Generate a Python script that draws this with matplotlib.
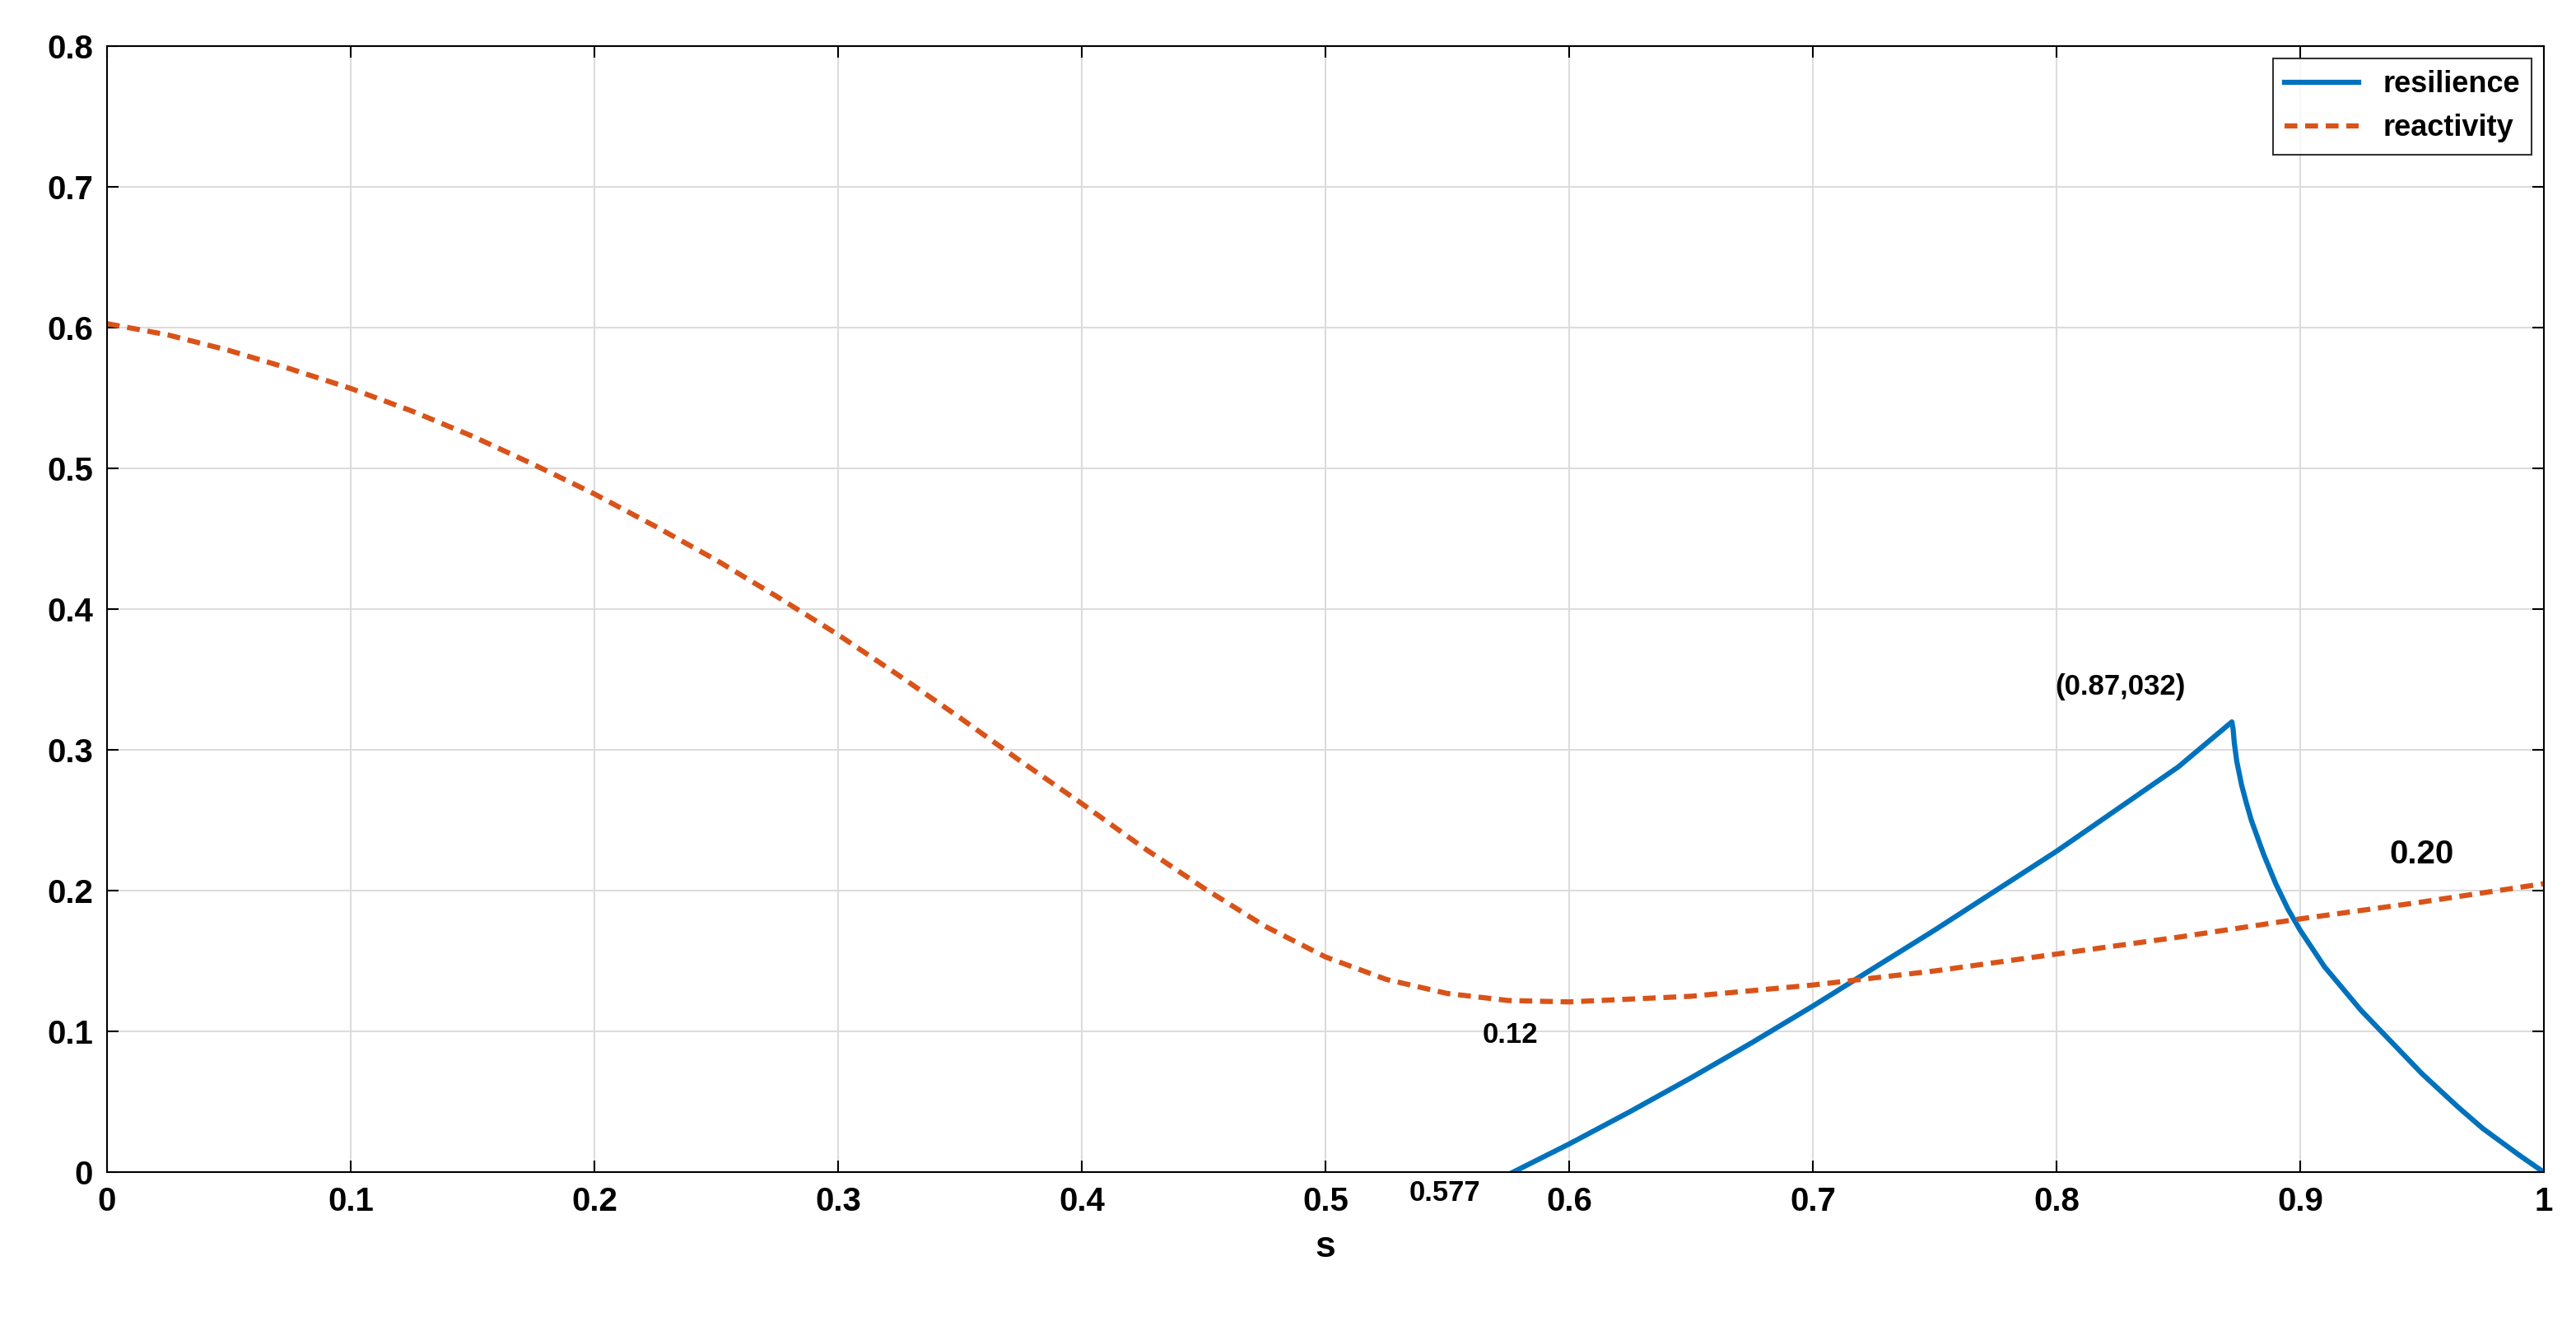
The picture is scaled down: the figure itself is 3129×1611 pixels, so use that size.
import matplotlib
matplotlib.use("Agg")
import matplotlib.pyplot as plt

s_react = [0, 0.025, 0.05, 0.075, 0.1, 0.125, 0.15, 0.175, 0.2, 0.225, 0.25, 0.275, 0.3, 0.325, 0.35, 0.375, 0.4, 0.425, 0.45, 0.475, 0.5, 0.525, 0.55, 0.575, 0.6, 0.65, 0.7, 0.75, 0.8, 0.85, 0.9, 0.95, 1.0]
reactivity = [0.603, 0.595, 0.584, 0.571, 0.557, 0.541, 0.523, 0.503, 0.482, 0.459, 0.435, 0.409, 0.382, 0.353, 0.323, 0.292, 0.262, 0.231, 0.202, 0.175, 0.153, 0.137, 0.127, 0.122, 0.121, 0.125, 0.133, 0.143, 0.155, 0.167, 0.180, 0.192, 0.205]
s_res = [0.577, 0.6, 0.625, 0.65, 0.675, 0.7, 0.725, 0.75, 0.775, 0.8, 0.825, 0.85, 0.872, 0.8725, 0.873, 0.874, 0.876, 0.878, 0.88, 0.885, 0.89, 0.895, 0.9, 0.91, 0.925, 0.94, 0.95, 0.965, 0.975, 0.99, 1.0]
resilience = [0.0, 0.02, 0.043, 0.067, 0.092, 0.118, 0.145, 0.172, 0.2, 0.228, 0.258, 0.288, 0.32, 0.315, 0.305, 0.292, 0.275, 0.262, 0.25, 0.226, 0.205, 0.187, 0.172, 0.146, 0.115, 0.088, 0.07, 0.046, 0.031, 0.012, 0.0]

plt.rcParams['font.family'] = ['Liberation Sans', 'DejaVu Sans']
plt.rcParams['font.weight'] = 'bold'
fig = plt.figure(figsize=(31.29, 16.11), dpi=100)
ax = fig.add_axes([0.0415, 0.116, 0.946, 0.849])
ax.plot(s_res, resilience, color='#0072BD', lw=4.5, label='resilience')
ax.plot(s_react, reactivity, color='#D95319', lw=4.5, ls=(0, (2.5, 1.5)), label='reactivity')
ax.set_xlim(0, 1); ax.set_ylim(0, 0.8)
ax.set_xticks([i/10 for i in range(11)]); ax.set_yticks([i/10 for i in range(9)])
ax.set_xticklabels(['0'] + [f'{i/10:.1f}' for i in range(1, 10)] + ['1'])
ax.set_yticklabels(['0'] + [f'{i/10:.1f}' for i in range(1, 9)])
ax.grid(True, color='#dcdcdc', lw=1.5)
ax.tick_params(labelsize=29, direction='in', length=10, width=1.5, top=True, right=True, pad=12)
for sp in ax.spines.values():
    sp.set_linewidth(1.5)
ax.set_xlabel('s', fontsize=32, fontweight='bold', labelpad=12)
leg = ax.legend(loc='upper right', fontsize=26, fancybox=False, edgecolor='black', handlelength=2.5, borderaxespad=0.4)
leg.get_frame().set_linewidth(1.5)
ax.text(0.576, 0.107, '0.12', fontsize=25, ha='center', va='top')
ax.text(0.853, 0.335, '(0.87,032)', fontsize=25, ha='right', va='bottom')
ax.text(0.95, 0.215, '0.20', fontsize=29, ha='center', va='bottom')
ax.text(0.549, -0.005, '0.577', fontsize=25, ha='center', va='top', clip_on=False)
fig.savefig('out.png', dpi=100)
